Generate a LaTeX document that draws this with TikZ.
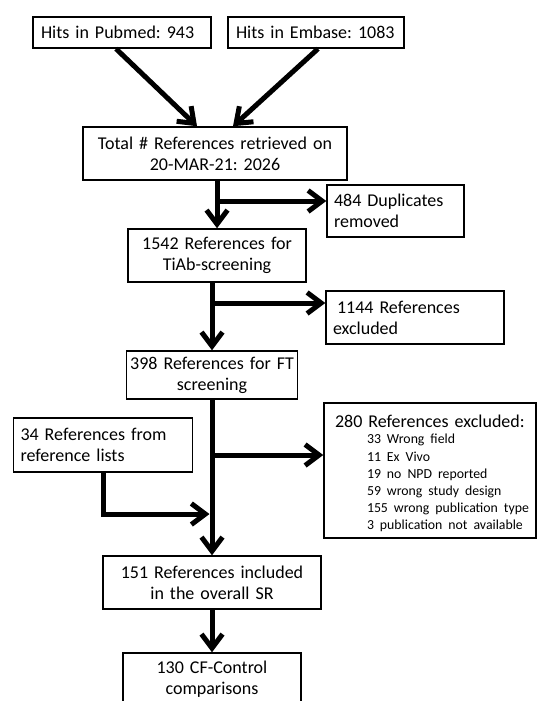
\documentclass[tikz,border=0pt]{standalone}
\usepackage{fontspec}
\setmainfont{Carlito}
\usetikzlibrary{arrows.meta}
\frenchspacing
\begin{document}
\begin{tikzpicture}[x=1pt,y=-1pt,
  box/.style={draw, line width=1.5pt, inner sep=0pt, font=\fontsize{18}{21}\selectfont},
  arr/.style={line width=5pt, -{Straight Barb[length=14pt,width=21pt,sharp]}}]
\useasboundingbox (0,0) rectangle (537,701);
\clip (0,0) rectangle (537,701);
\node[box, minimum width=178pt, minimum height=31pt, text width=162pt, align=left] (pub) at (122,32.5) {Hits in Pubmed: 943};
\node[box, minimum width=176pt, minimum height=31pt, text width=160pt, align=left] (emb) at (316,32.5) {Hits in Embase: 1083};
\node[box, minimum width=264pt, minimum height=53pt, text width=256pt, align=center] (tot) at (215,153.5) {Total \# References retrieved on\\20-MAR-21: 2026};
\node[box, minimum width=137pt, minimum height=52pt, text width=123pt, align=left] (dup) at (395.5,211) {484 Duplicates\\removed};
\node[box, minimum width=178pt, minimum height=53pt, text width=172pt, align=center] (s1542) at (217,255.5) {1542 References for\\TiAb-screening};
\node[box, minimum width=178pt, minimum height=53pt, text width=164pt, align=left] (exc1144) at (415,317.5) {\hspace*{4pt}1144 References\\excluded};
\node[box, minimum width=171pt, minimum height=48pt, text width=167pt, align=center] (ft) at (212,375) {398 References for FT\\screening};
\node[box, minimum width=212pt, minimum height=135pt, text width=190pt, align=left] (exc280) at (430,470.5) {\rule{0pt}{22pt}280 References excluded:\\[-5pt]\hspace*{32pt}{\fontsize{13.8}{17.2}\selectfont\begin{tabular}[t]{@{}l@{}}33 Wrong field\\11 Ex Vivo\\19 no NPD reported\\59 wrong study design\\155 wrong publication type\\3 publication not available\end{tabular}}};
\node[box, minimum width=179pt, minimum height=54pt, text width=165pt, align=left] (r34) at (103,445) {34 References from\\reference lists};
\node[box, minimum width=218pt, minimum height=53pt, text width=212pt, align=center] (inc151) at (212,582.5) {151 References included\\in the overall SR};
\node[box, minimum width=178pt, minimum height=52pt, text width=172pt, align=center] (cf130) at (212,679) {130 CF-Control\\comparisons};
\coordinate (b1) at (217,201);
\coordinate (b2) at (212,303);
\coordinate (b3) at (212,455);
\coordinate (j) at (209.5,514);
\draw[arr] ([xshift=-6pt]pub.south) -- ([xshift=-18pt]tot.north);
\draw[arr] ([xshift=2pt]emb.south) -- ([xshift=18pt]tot.north);
\draw[arr] (tot.south -| s1542.north) -- (s1542.north);
\draw[arr] (b1) -- (b1 -| dup.west);
\draw[arr] (s1542.south -| ft.north) -- (ft.north);
\draw[arr] (b2) -- (b2 -| exc1144.west);
\draw[arr] (ft.south) -- (inc151.north);
\draw[arr] (b3) -- (b3 -| exc280.west);
\draw[arr] (r34.south) |- (j);
\draw[arr] (inc151.south) -- (cf130.north);
\end{tikzpicture}
\end{document}
